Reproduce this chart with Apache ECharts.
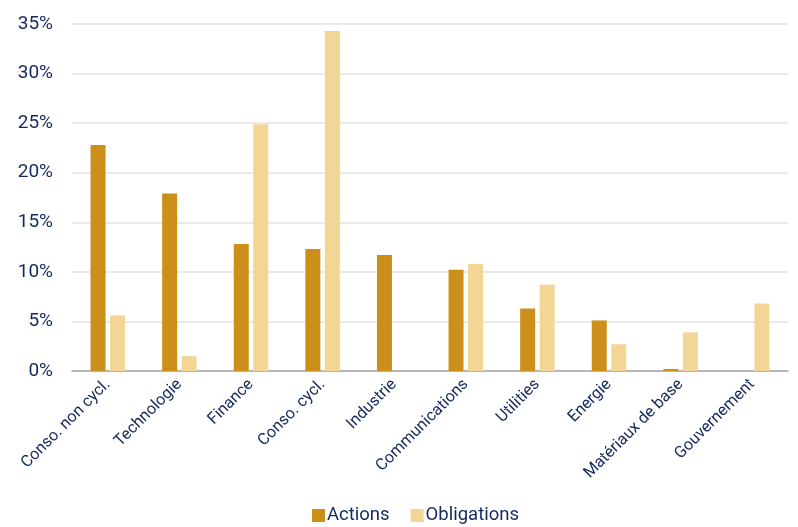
<!DOCTYPE html>
<html><head><meta charset="utf-8">
<script src="https://cdn.jsdelivr.net/npm/echarts@6/dist/echarts.min.js"></script>
<style>html,body{margin:0;padding:0;background:#fff}#c{width:798px;height:527px}</style>
</head><body><div id="c"></div>
<script>
const categories = ['Conso. non cycl.','Technologie','Finance','Conso. cycl.','Industrie','Communications','Utilities','Energie','Matériaux de base','Gouvernement'];
const actions = [22.8, 17.9, 12.8, 12.3, 11.7, 10.2, 6.3, 5.1, 0.2, 0];
const obligations = [5.6, 1.5, 24.9, 34.3, 0, 10.8, 8.7, 2.7, 3.9, 6.8];
const seriesNames = ['Actions','Obligations'];
const txt = '#15295e';
const chart = echarts.init(document.getElementById('c'));
chart.setOption({
  animation:false,
  textStyle:{fontFamily:'Roboto'},
  grid:{left:72,right:10,top:24,bottom:156},
  legend:{top:506,left:312,itemWidth:13,itemHeight:13,itemGap:21,icon:'rect',padding:0,
    textStyle:{color:txt,fontSize:18.5,fontFamily:'Roboto',padding:[0,0,0,-3]},data:seriesNames},
  xAxis:{type:'category',data:categories,
    axisLine:{lineStyle:{color:'#a6a6a6',width:1.5}},axisTick:{show:false},
    axisLabel:{rotate:45,color:txt,fontSize:16.2,fontFamily:'Roboto',margin:11,interval:0}},
  yAxis:{type:'value',min:0,max:35,interval:5,
    axisLabel:{formatter:'{value}%',color:txt,fontSize:19,fontFamily:'Roboto',margin:19},
    splitLine:{lineStyle:{color:'#e3e3e3',width:1.5}},axisLine:{show:false},axisTick:{show:false}},
  series:[
    {name:seriesNames[0],type:'bar',data:actions,barWidth:15,barGap:'30%',itemStyle:{color:'#cc8f1a'}},
    {name:seriesNames[1],type:'bar',data:obligations,barWidth:15,itemStyle:{color:'#f3d596'}}
  ]
});
</script></body></html>
